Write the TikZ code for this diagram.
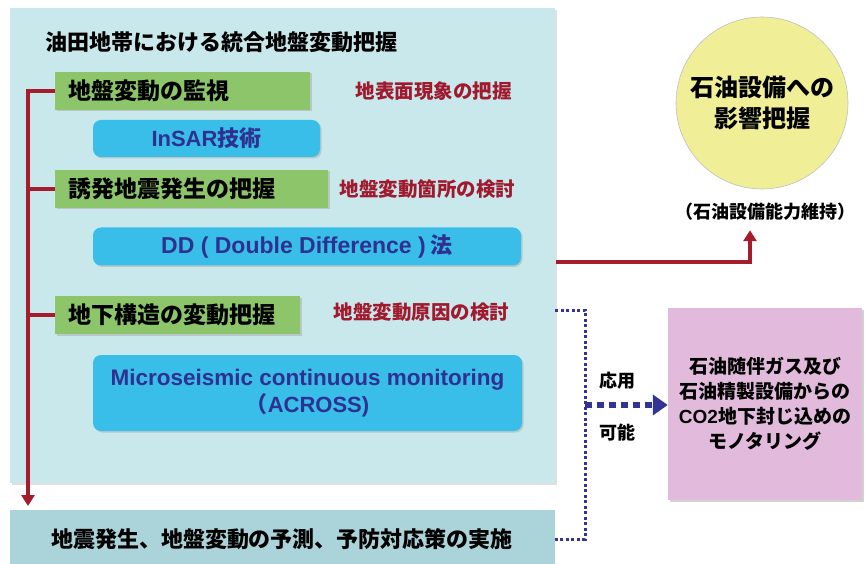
\documentclass[tikz,border=0pt]{standalone}
\usepackage{fontspec}
\setmainfont{Noto Sans CJK JP}
\newfontfamily\lat{Liberation Sans}
\usetikzlibrary{arrows.meta,shadows,calc}
\definecolor{mainbg}{RGB}{200,232,236}
\definecolor{botbg}{RGB}{170,212,217}
\definecolor{grn}{RGB}{141,197,106}
\definecolor{blu}{RGB}{56,190,232}
\definecolor{navy}{RGB}{46,49,146}
\definecolor{redln}{RGB}{165,28,45}
\definecolor{redtxt}{RGB}{160,25,45}
\definecolor{yel}{RGB}{240,238,150}
\definecolor{pnk}{RGB}{226,186,220}
\definecolor{dotblue}{RGB}{50,52,150}
\begin{document}
\begin{tikzpicture}[x=1pt,y=-1pt,
  jp/.style={font=\fontsize{#1}{#1}\selectfont\bfseries},
  shad/.style={drop shadow={shadow xshift=1.5pt,shadow yshift=-1.5pt,fill=black!30,opacity=0.6}},
  greenbox/.style={fill=grn, anchor=west, minimum height=38pt, inner xsep=13pt, align=left,
     font=\fontsize{23}{26}\selectfont\bfseries, shad},
  bluebox/.style={fill=blu, rounded corners=8pt, text=navy, align=center,
     font=\fontsize{22}{27}\selectfont\bfseries, shad},
  redlbl/.style={text=redtxt, anchor=west, font=\fontsize{19.5}{21}\selectfont\bfseries},
  redline/.style={draw=redln, line width=4pt},
  redarrow/.style={redline, -{Triangle[width=13pt,length=11pt]}},
  bluedots/.style={draw=dotblue, line width=3pt, dash pattern=on 3pt off 2.5pt},
]
\useasboundingbox (0,0) rectangle (865,564);

% main panel
\node[fill=mainbg, anchor=north west, minimum width=545pt, minimum height=475pt, inner sep=0pt,
      drop shadow={shadow xshift=1.5pt,shadow yshift=-1.5pt,fill=black!25}] (main) at (10,8) {};
% bottom panel
\node[fill=botbg, anchor=north west, minimum width=545pt, minimum height=58pt, inner sep=0pt] (bot) at (10,510) {};
\node[jp=22] (bottxt) at (282,539) {地震発生、地盤変動の予測、予防対応策の実施};

% title
\node[jp=22, anchor=west, inner sep=0pt] (title) at (45,42) {油田地帯における統合地盤変動把握};

% green boxes
\node[greenbox, text width=229pt] (g1) at (55,91) {地盤変動の監視};
\node[greenbox, text width=247pt] (g2) at (55,189) {誘発地震発生の把握};
\node[greenbox, text width=219pt] (g3) at (55,315) {地下構造の変動把握};

% red labels
\node[redlbl] (r1) at (352,91) {地表面現象の把握};
\node[redlbl] (r2) at (336,189) {地盤変動箇所の検討};
\node[redlbl] (r3) at (330,312) {地盤変動原因の検討};

% blue boxes
\node[bluebox, minimum width=227pt, minimum height=37pt] (b1) at (206.5,138.5) {{\lat InSAR}技術};
\node[bluebox, minimum width=428pt, minimum height=38pt] (b2) at (307,246.5) {{\lat\fontsize{23}{27}\selectfont DD ( Double Difference )} 法};
\node[bluebox, minimum width=429pt, minimum height=76pt] (b3) at (307.5,393)
   {{\lat\fontsize{22.5}{27}\selectfont Microseismic continuous monitoring}\\（{\lat ACROSS)}};

% red trunk
\coordinate (trunk) at (28,91);
\draw[redline] (g1.west) -- (trunk);
\draw[redline] (g2.west) -- (trunk |- g2.west);
\draw[redline] (g3.west) -- (trunk |- g3.west);
\draw[redarrow, shorten >=4pt] ([yshift=2pt]trunk) -- (trunk |- bot.north);

% circle
\node[circle, fill=yel, draw=black!25, line width=0.6pt, minimum size=172pt, align=center,
      jp=24, inner sep=0pt] (circ) at (762,103) {石油設備への\\[7pt]影響把握};
\node[jp=18] (clbl) at (765,212) {（石油設備能力維持）};

% red arrow to circle
\coordinate (rstart) at (556,262);
\draw[redarrow, shorten >=6pt] (rstart) -| ([xshift=-15pt]clbl.south);

% pink box
\node[fill=pnk, minimum width=194pt, minimum height=192pt, align=center,
      font=\fontsize{19}{25}\selectfont\bfseries, shad] (pink) at (765,404)
      {石油随伴ガス及び\\石油精製設備からの\\{\lat\bfseries CO2}地下封じ込めの\\モノタリング};

% blue dotted bracket
\coordinate (dtop) at (585,310);
\draw[bluedots] (main.east |- dtop) -- (dtop) -- (dtop |- bot.east) -- (bot.east);
% thick dotted arrow
\coordinate (dmid) at (585,405);
\draw[draw=dotblue, line width=6.5pt, dash pattern=on 7pt off 5pt,
      -{Triangle[width=20pt,length=15pt]}] (dmid) -- (pink.west |- dmid);
\node[jp=18] (oyo) at (617,381) {応用};
\node[jp=18] (kano) at (617,433) {可能};
\end{tikzpicture}
\end{document}
